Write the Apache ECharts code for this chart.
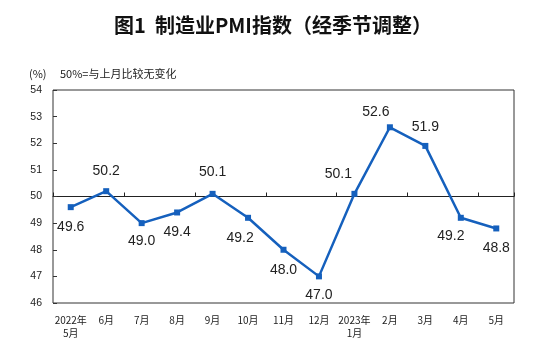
<!DOCTYPE html>
<html>
<head>
<meta charset="utf-8">
<script src="https://cdn.jsdelivr.net/npm/echarts@6/dist/echarts.min.js"></script>
<style>
html,body{margin:0;padding:0;background:#fff;}
#c{width:546px;height:361px;}
</style>
</head>
<body>
<div id="c"></div>
<script>
// ---- data ----
var categories = ['2022年\n5月','6月','7月','8月','9月','10月','11月','12月','2023年\n1月','2月','3月','4月','5月'];
var pmiValues = [49.6, 50.2, 49.0, 49.4, 50.1, 49.2, 48.0, 47.0, 50.1, 52.6, 51.9, 49.2, 48.8];
var yTicks = [46, 47, 48, 49, 50, 51, 52, 53, 54];
var titleText = '图1  制造业PMI指数（经季节调整）';
var unitText = '(%)';
var noteText = '50%=与上月比较无变化';
var baseline = 50;

// label placement (style only): [position, dx, dy]
var labelPlace = [
  ['bottom',0,2],['top',0,-2],['bottom',0,0],['bottom',0,2],['top',0,-4],['bottom',-8,2],
  ['bottom',0,2],['bottom',0,1],['top',-16,-2],['top',-14,3],['top',0,-1],['bottom',-10,0],['bottom',0,2]
];

var seriesData = pmiValues.map(function(v,i){
  var p = labelPlace[i];
  return {value:v, label:{position:p[0], offset:[p[1],p[2]]}};
});

var chart = echarts.init(document.getElementById('c'), null, {renderer:'canvas'});
var L = 53, R = 32, T = 90, B = 58;
var plotH = 361 - T - B;
var yMin = yTicks[0], yMax = yTicks[yTicks.length-1];
var baseH = plotH * (yMax - baseline) / (yMax - yMin);

chart.setOption({
  animation:false,
  backgroundColor:'#fff',
  title:{
    text:titleText, left:'center', top:10,
    textStyle:{fontFamily:'Noto Sans CJK SC', fontWeight:'bold', fontSize:20, color:'#111'}
  },
  graphic:[
    {type:'text', left:29, top:68, style:{text:unitText, font:'11px "Noto Sans CJK SC"', fill:'#222'}},
    {type:'text', left:60, top:68, style:{text:noteText, font:'11px "Noto Sans CJK SC"', fill:'#222'}}
  ],
  grid:[
    {left:L, right:R, top:T, bottom:B, show:true, borderColor:'#333', borderWidth:1, backgroundColor:'transparent'},
    {left:L, right:R, top:T, height:baseH, show:false}
  ],
  xAxis:[
    {type:'category', gridIndex:0, data:categories, boundaryGap:true,
     axisLine:{show:false}, axisTick:{show:false},
     axisLabel:{margin:11, fontSize:10, lineHeight:13, color:'#222', fontFamily:'Noto Sans CJK SC', interval:0}},
    {type:'category', gridIndex:1, data:categories, boundaryGap:true, position:'bottom',
     axisLine:{show:true, lineStyle:{color:'#222', width:1}},
     axisTick:{show:true, inside:true, length:4, lineStyle:{color:'#222'}},
     axisLabel:{show:false}}
  ],
  yAxis:[
    {type:'value', gridIndex:0, min:yMin, max:yMax, interval:1,
     axisLine:{show:false}, axisTick:{show:true, inside:true, length:4, lineStyle:{color:'#333'}},
     splitLine:{show:false},
     axisLabel:{margin:11, fontSize:10.5, color:'#222', fontFamily:'Liberation Sans'}},
    {type:'value', gridIndex:1, show:false, min:baseline, max:yMax}
  ],
  series:[{
    type:'line', xAxisIndex:0, yAxisIndex:0, data:seriesData,
    symbol:'rect', symbolSize:6, showAllSymbol:true,
    lineStyle:{color:'#1560bd', width:2.5},
    itemStyle:{color:'#1560bd'},
    label:{show:true, distance:8, fontSize:14, color:'#222', fontFamily:'Liberation Sans',
      formatter:function(p){return p.value.toFixed(1);}},
    z:5
  }]
});
</script>
</body>
</html>
